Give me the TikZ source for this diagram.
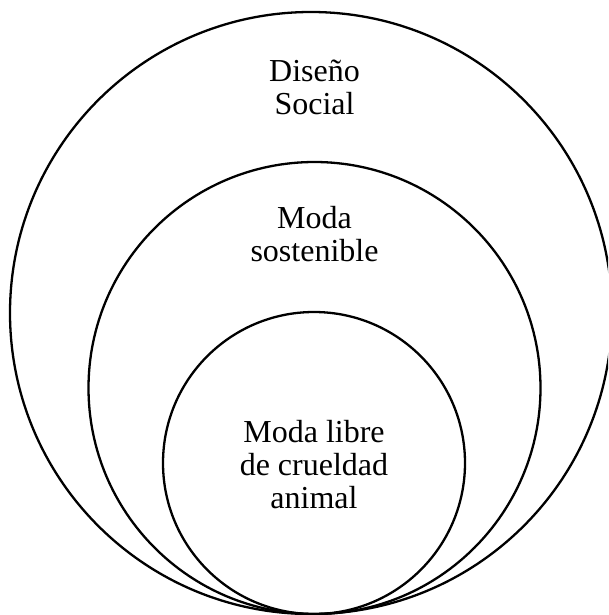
\documentclass[tikz,border=0pt]{standalone}
\usepackage{fontspec}
\setmainfont{Liberation Serif}
\begin{document}
\begin{tikzpicture}[x=1pt,y=-1pt,
  ring/.style={circle, draw=black, line width=2.3pt, inner sep=0pt, fill=none},
  lbl/.style={align=center, inner sep=0pt, font=\fontsize{32}{33}\selectfont}]
\useasboundingbox (0,0) rectangle (608,615);
\clip (0,0) rectangle (608,615);
\node[ring, minimum size=602pt] (social) at (311,313) {};
\node[ring, minimum size=452pt] (sost) at (314.5,388) {};
\node[ring, minimum size=302pt] (animal) at (314,463) {};
\node[lbl] (tsocial) at (314.5,87) {Diseño\\Social};
\node[lbl] (tsost) at (314.5,234) {Moda\\sostenible};
\node[lbl] (tanimal) at (314,465) {Moda libre\\de crueldad\\animal};
\end{tikzpicture}
\end{document}
